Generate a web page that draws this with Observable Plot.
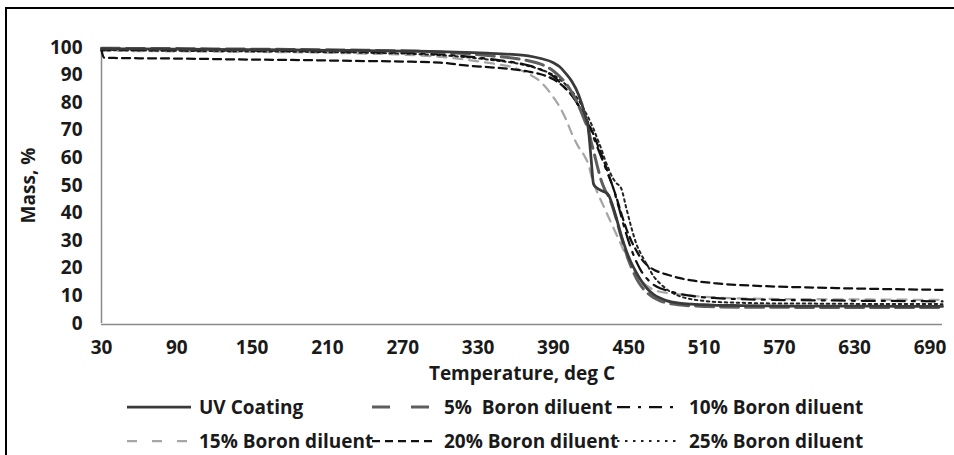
<!DOCTYPE html>
<html><head><meta charset="utf-8">
<script src="https://cdn.jsdelivr.net/npm/d3@7"></script>
<script src="https://cdn.jsdelivr.net/npm/@observablehq/plot@0.6"></script>
<style>
body{margin:0;background:#fff;font-family:"Open Sans",sans-serif;overflow:hidden;}
#frame{position:absolute;left:5px;top:7px;width:1000px;height:500px;border-left:2px solid #000;border-top:2px solid #000;}
#chart{position:absolute;left:0;top:0;}
.item{position:absolute;display:flex;align-items:center;font-weight:700;font-size:19px;color:#1a1a1a;white-space:pre;}
.item svg{margin-right:8px;}
</style></head><body>
<div id="frame"></div><div id="chart"></div><div id="legend"></div>
<script>
const temps = [30,32,40,60,90,120,150,180,210,240,270,300,320,340,360,370,380,390,395,400,405,410,415,418,420,422,425,428,431,434,437,440,444,448,452,456,460,465,470,475,480,490,500,510,520,540,560,600,640,680,700];
const uvCoating = [99.6,99.6,99.5,99.5,99.4,99.3,99.2,99.1,99,98.9,98.7,98.5,98.2,97.9,97.4,97,96,94.5,93,90.5,87.5,83,76,70,60,50.5,49,48.2,47.6,46.5,43,38.5,32,26.5,22,18.5,15.5,12.5,10.5,9.2,8.3,7.4,7,6.8,6.6,6.5,6.4,6.3,6.3,6.2,6.2];
const boron5 = [99.7,99.7,99.7,99.6,99.6,99.5,99.4,99.3,99.2,99,98.8,98.3,97.8,97,96,95.2,94,91.5,89.5,87,83.5,79,73.5,70,66,62.5,57,52,48.5,46,42.5,38,31.5,25.5,20.5,16.5,13.5,11,9.3,8.2,7.5,6.8,6.4,6.2,6,5.9,5.9,5.8,5.8,5.8,5.8];
const boron10 = [99.2,99.2,99.2,99.1,99,99,98.9,98.8,98.6,98.4,98.1,97.5,96.8,95.8,94.5,93.5,92,89.5,87.5,85,82.5,79,75,72,70,67.5,64,60.5,57,53.5,50,45.5,39,32.5,27,22.5,19,16,14,12.8,12,10.8,10,9.5,9.2,8.8,8.6,8.4,8.2,8.1,8];
const boron15 = [98.8,98.8,98.8,98.7,98.6,98.5,98.4,98.3,98.1,97.8,97.4,96.6,95.6,94.3,92.5,90.5,87.5,82,78.5,74,68.5,64,60.5,57.5,54,51,47.5,44.5,41.5,38.5,35.5,32.5,28.5,24.5,21,18,15.5,13.5,12.2,11.5,11.1,10.6,10.1,9.7,9.4,9.1,8.9,8.8,8.7,8.6,8.6];
const boron20 = [99,96.3,96.2,96.1,96,95.8,95.6,95.5,95.3,95.1,94.9,94.5,93.5,92.8,92,91.3,90.3,88.5,87,85,82.5,79,75,72.5,70.5,68.5,65,61.5,58,54,50,46,40,34.5,30,26.5,23.5,21,19.5,18.5,17.8,16.5,15.6,15,14.5,13.9,13.5,13,12.6,12.3,12.2];
const boron25 = [99,99,99,98.9,98.8,98.7,98.6,98.5,98.3,98.1,97.8,97.2,96.5,95.5,94.3,93.3,92,90,88.5,86.5,84,81,77,74.5,72.5,70.5,67,63.5,59.5,56,53,51,49,42,35,29,25,21,17,14.5,12.5,10,8.8,8.2,7.8,7.5,7.3,7.2,7.1,7.1,7];
const seriesNames = ["UV Coating","5%  Boron diluent","10% Boron diluent","15% Boron diluent","20% Boron diluent","25% Boron diluent"];
const seriesValues = [uvCoating, boron5, boron10, boron15, boron20, boron25];
const xTicks = [30,90,150,210,270,330,390,450,510,570,630,690];
const yTicks = [0,10,20,30,40,50,60,70,80,90,100];

const styles = [
  {stroke:"#3a3a3a", width:2.75, dash:null, legendDash:null},
  {stroke:"#5e5e5e", width:3, dash:"18,7", legendDash:"18,21"},
  {stroke:"#111", width:2.25, dash:"13,7,3,7", legendDash:"13,8,3,8"},
  {stroke:"#a6a6a6", width:2.25, dash:"9,7", legendDash:"10,15"},
  {stroke:"#111", width:2.25, dash:"8,5", legendDash:"8,5"},
  {stroke:"#222", width:2, dash:"2.5,3.5", legendDash:"2.5,5.5"}
];
const drawOrder = [3,4,5,2,1,0];

const rows = seriesNames.flatMap((name,i)=>temps.map((t,j)=>({series:name, t, m:seriesValues[i][j]})));

const lines = drawOrder.map(i=>Plot.line(rows.filter(d=>d.series===seriesNames[i]), {
  x:"t", y:"m", stroke:styles[i].stroke, strokeWidth:styles[i].width,
  strokeDasharray:styles[i].dash ?? undefined, curve:"monotone-x"
}));

const chart = Plot.plot({
  width:954, height:392, marginLeft:101, marginRight:12, marginTop:47, marginBottom:69,
  x:{domain:[30,700]},
  y:{domain:[0,100]},
  style:{fontFamily:"Open Sans", fontSize:"19px", fontWeight:700, color:"#1a1a1a", background:"transparent"},
  marks:[
    Plot.axisX({ticks:xTicks, tickSize:0, tickPadding:17, label:"Temperature, deg C", labelAnchor:"center", labelArrow:"none", labelOffset:56}),
    Plot.axisY({ticks:yTicks, tickSize:0, tickPadding:19, label:"Mass, %", labelAnchor:"center", labelArrow:"none", labelOffset:80}),
    Plot.ruleX([30], {stroke:"#8a8a8a", strokeWidth:1.5}),
    Plot.ruleY([0], {stroke:"#8a8a8a", strokeWidth:1.5, dy:1}),
    ...lines
  ]
});
document.getElementById("chart").appendChild(chart);

// legend
const legend = document.getElementById("legend");
const colX = [127, 372, 617];
const rowY = [407, 441];
seriesNames.forEach((name,i)=>{
  const s = styles[i];
  const div = document.createElement("div");
  div.className = "item";
  div.style.left = colX[i%3] + "px";
  div.style.top = (rowY[Math.floor(i/3)] - 12) + "px";
  div.style.height = "24px";
  const ns = "http://www.w3.org/2000/svg";
  const svg = document.createElementNS(ns,"svg");
  svg.setAttribute("width", 64); svg.setAttribute("height", 10);
  const ln = document.createElementNS(ns,"line");
  ln.setAttribute("x1",0); ln.setAttribute("x2",64); ln.setAttribute("y1",5); ln.setAttribute("y2",5);
  ln.setAttribute("stroke", s.stroke); ln.setAttribute("stroke-width", s.width);
  if (s.legendDash) ln.setAttribute("stroke-dasharray", s.legendDash);
  svg.appendChild(ln);
  div.appendChild(svg);
  const sp = document.createElement("span");
  sp.textContent = name;
  div.appendChild(sp);
  legend.appendChild(div);
});
</script>
</body></html>
